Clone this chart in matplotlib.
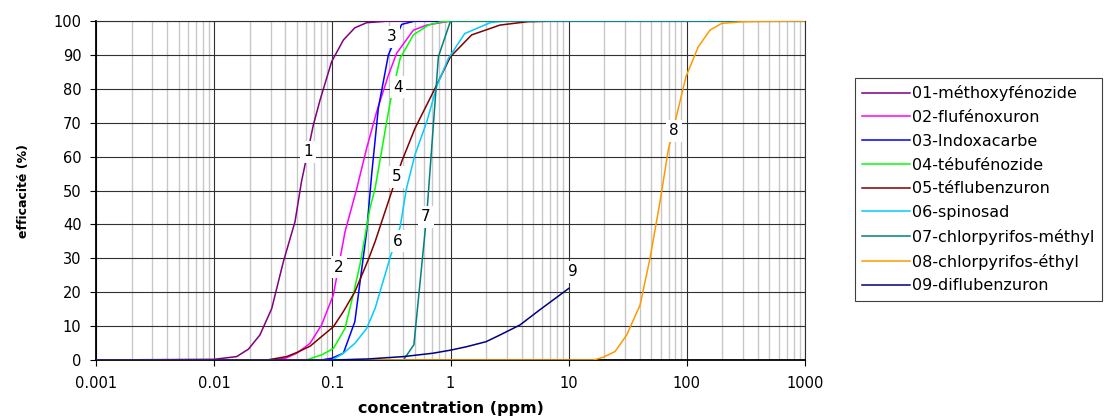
import matplotlib
matplotlib.use('Agg')
import matplotlib.pyplot as plt
from matplotlib.ticker import FixedLocator, NullFormatter, LogLocator

plt.rcParams['font.family'] = ['DejaVu Sans']

# concentrations (ppm) and efficacy (%)
c01 = [0.001, 0.01, 0.0155, 0.0195, 0.0244, 0.0307, 0.0385, 0.0483, 0.0548, 0.069, 0.0787, 0.0986, 0.124, 0.155, 0.195, 0.3, 1000]
v01 = [0, 0.2, 1, 3.2, 7.4, 15.2, 29, 40.8, 52.6, 69.3, 76.7, 88, 94.4, 98, 99.5, 100, 100]

c02 = [0.001, 0.03, 0.04, 0.05, 0.0647, 0.081, 0.102, 0.128, 0.161, 0.195, 0.237, 0.298, 0.35, 0.485, 0.63, 1.0, 1000]
v02 = [0, 0, 0.5, 2, 4.9, 10.3, 19.2, 37.8, 50.6, 62.4, 73.2, 84, 90.5, 97.3, 98.8, 100, 100]

c03 = [0.001, 0.08, 0.0987, 0.124, 0.155, 0.195, 0.215, 0.245, 0.298, 0.386, 0.5, 1000]
v03 = [0, 0, 0.5, 2, 11.3, 37.8, 54.6, 74.3, 90, 99, 100, 100]

c04 = [0.001, 0.06, 0.081, 0.102, 0.128, 0.150, 0.171, 0.208, 0.23, 0.307, 0.375, 0.485, 0.649, 0.84, 1.2, 1000]
v04 = [0, 0, 1.5, 3.4, 9.3, 19.2, 28, 44.7, 50.6, 75.7, 89, 95.9, 98.8, 99.8, 100, 100]

c05 = [0.001, 0.028, 0.041, 0.05, 0.065, 0.081, 0.102, 0.124, 0.155, 0.201, 0.23, 0.318, 0.386, 0.5, 0.715, 1.0, 1.51, 2.62, 4.5, 8, 1000]
v05 = [0, 0, 1, 2.2, 4.1, 6.9, 9.8, 14.3, 20.1, 29.5, 34.9, 49.7, 58.5, 68.3, 79.1, 89.5, 95.9, 98.8, 99.8, 100, 100]

c06 = [0.001, 0.1, 0.124, 0.155, 0.195, 0.23, 0.307, 0.375, 0.424, 0.5, 0.63, 0.77, 0.96, 1.32, 2.2, 3, 1000]
v06 = [0, 0, 2, 4.9, 9.3, 15.2, 30, 39.3, 50.6, 60.5, 70.3, 81, 89, 96.3, 99.6, 100, 100]

c07 = [0.001, 0.4, 0.49, 0.63, 0.79, 1.0, 1000]
v07 = [0, 0, 4.5, 43, 89.5, 100, 100]

c08 = [0.001, 16.2, 19.6, 24.7, 31, 40.2, 48.8, 59.3, 69.7, 98.4, 125, 157, 197, 301, 1000]
v08 = [0, 0, 0.8, 2.5, 7.4, 16.2, 30, 46.7, 62, 83.6, 92.4, 97.3, 99.3, 99.8, 100]

c09 = [0.001, 0.1, 0.2, 0.4, 0.71, 1.0, 1.36, 2.0, 2.63, 3.86, 5.65, 10]
v09 = [0, 0, 0.3, 1.0, 2.0, 2.9, 3.9, 5.4, 7.4, 10.3, 14.7, 21.1]

names = ['01-méthoxyfénozide', '02-flufénoxuron', '03-Indoxacarbe', '04-tébufénozide',
         '05-téflubenzuron', '06-spinosad', '07-chlorpyrifos-méthyl', '08-chlorpyrifos-éthyl',
         '09-diflubenzuron']
colors = ['#800080', '#ff00ff', '#0000ff', '#00ff00', '#800000', '#00ccff', '#008080', '#ff9900', '#000080']

# curve number labels (concentration, efficacy)
label_text = ['1', '2', '3', '4', '5', '6', '7', '8', '9']
label_c = [0.0622, 0.114, 0.32, 0.36, 0.352, 0.36, 0.62, 77.8, 10.9]
label_v = [61.4, 27.4, 95.3, 80.5, 54, 35.1, 42.2, 67.6, 26]

series_c = [c01, c02, c03, c04, c05, c06, c07, c08, c09]
series_v = [v01, v02, v03, v04, v05, v06, v07, v08, v09]

fig = plt.figure(figsize=(11.14, 4.17), dpi=100)
ax = fig.add_axes([0.0862, 0.1367, 0.6364, 0.8129])

for cs, vs, name, col in zip(series_c, series_v, names, colors):
    ax.plot(cs, vs, color=col, lw=1.1, label=name, zorder=3)

for t, x, y in zip(label_text, label_c, label_v):
    ax.text(x, y, t, ha='center', va='center', fontsize=11, zorder=5,
            bbox=dict(facecolor='white', edgecolor='none', pad=2.5))

ax.set_xscale('log')
ax.set_xlim(0.001, 1000)
ax.set_ylim(0, 100)
ax.xaxis.set_major_locator(FixedLocator([0.001, 0.01, 0.1, 1, 10, 100, 1000]))
ax.set_xticklabels(['0.001', '0.01', '0.1', '1', '10', '100', '1000'])
ax.xaxis.set_minor_locator(LogLocator(base=10, subs=range(2, 10), numticks=20))
ax.xaxis.set_minor_formatter(NullFormatter())
ax.set_yticks(range(0, 101, 10))

ax.grid(which='minor', axis='x', color='#c8c8c8', lw=1.0, zorder=0)
ax.grid(which='major', axis='x', color='#303030', lw=0.8, zorder=1)
ax.grid(which='major', axis='y', color='#303030', lw=0.8, zorder=1)
ax.set_axisbelow(True)

ax.tick_params(axis='both', which='major', direction='out', length=4.5, width=0.8, labelsize=10.5)
ax.tick_params(axis='y', pad=6)
ax.tick_params(axis='x', pad=7)
ax.tick_params(axis='x', which='minor', length=0)
for side in ['top', 'right']:
    ax.spines[side].set_color('#303030')
    ax.spines[side].set_linewidth(0.8)
for side in ['left', 'bottom']:
    ax.spines[side].set_color('black')
    ax.spines[side].set_linewidth(1.3)

ax.set_xlabel('concentration (ppm)', fontsize=11.5, fontweight='bold', labelpad=7)
ax.set_ylabel('efficacité (%)', fontsize=9, fontweight='bold', labelpad=17)

lgd = fig.legend(loc='upper left', bbox_to_anchor=(0.7675, 0.813), fontsize=11.5,
                 handlelength=3.0, handletextpad=0.15, labelspacing=0.55,
                 borderpad=0.45, borderaxespad=0, fancybox=False, framealpha=1,
                 edgecolor='#404040')
lgd.get_frame().set_linewidth(0.8)

plt.savefig('out.png', dpi=100)
